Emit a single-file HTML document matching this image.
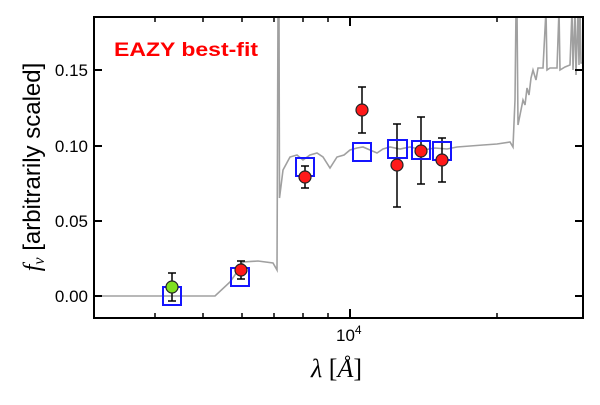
<!DOCTYPE html>
<html><head><style>html,body{margin:0;padding:0;background:#fff}</style></head><body>
<svg width="600" height="400" xmlns="http://www.w3.org/2000/svg" font-family="Liberation Sans, DejaVu Sans, sans-serif">
<rect width="600" height="400" fill="#fff"/>
<defs><clipPath id="c"><rect x="94" y="17" width="489" height="301"/></clipPath></defs>
<g clip-path="url(#c)" fill="none" stroke="#a0a0a0" stroke-width="1.6">
<polyline points="94,296 215,296 230,282 242,265 243,262 258,261 273,263 277,270 278,10 279,10 279.5,198 283,170 290,157 297,155 303,160 310,155 317,153 323,157 330,168 337,157 344,155 350,150 357,148 363,147 370,150 377,153 383,149 390,147 400,149 410,147 423,150 435,148 447,149 457,147 470,146 483,145 497,144 510,142 513,147 515,100 516,10 517,10 518,125 521,110 523,100 525,105 527,88 529,95 531,78 533,70 536,80 538,68 543,68 546,10 547,70 550,68 557,68 559,10 560,70 565,67 570,65 572,10 573,70 575,10 576,75 578,10 579,65 580,10 581,63 583,63"/>
</g>
<g stroke="#000" stroke-width="1.5" fill="none">
<line x1="172" y1="273" x2="172" y2="301"/><line x1="168" y1="273" x2="176" y2="273"/><line x1="168" y1="301" x2="176" y2="301"/>
<line x1="241" y1="261" x2="241" y2="279"/><line x1="237" y1="261" x2="245" y2="261"/><line x1="237" y1="279" x2="245" y2="279"/>
<line x1="305" y1="166" x2="305" y2="188"/><line x1="301" y1="166" x2="309" y2="166"/><line x1="301" y1="188" x2="309" y2="188"/>
<line x1="362" y1="87" x2="362" y2="133"/><line x1="358" y1="87" x2="366" y2="87"/><line x1="358" y1="133" x2="366" y2="133"/>
<line x1="397" y1="124" x2="397" y2="207"/><line x1="393" y1="124" x2="401" y2="124"/><line x1="393" y1="207" x2="401" y2="207"/>
<line x1="421" y1="117" x2="421" y2="184"/><line x1="417" y1="117" x2="425" y2="117"/><line x1="417" y1="184" x2="425" y2="184"/>
<line x1="442" y1="138" x2="442" y2="182"/><line x1="438" y1="138" x2="446" y2="138"/><line x1="438" y1="182" x2="446" y2="182"/>
</g>
<g stroke="#1515ff" stroke-width="2" fill="none">
<rect x="163" y="287" width="18" height="18"/>
<rect x="231" y="268" width="18" height="18"/>
<rect x="296" y="158" width="18" height="18"/>
<rect x="353" y="143" width="18" height="18"/>
<rect x="388" y="140" width="19" height="18"/>
<rect x="412" y="141" width="18" height="18"/>
<rect x="433" y="142" width="18" height="18"/>
</g>
<g stroke="#222" stroke-width="1.2" fill="#ff1a1a">
<circle cx="172" cy="287" r="6" fill="#7fe020"/>
<circle cx="241" cy="270" r="6"/>
<circle cx="305" cy="177" r="6"/>
<circle cx="362" cy="110" r="6"/>
<circle cx="397" cy="165" r="6"/>
<circle cx="421" cy="151" r="6"/>
<circle cx="442" cy="160" r="6"/>
</g>
<rect x="94" y="17" width="489" height="301" fill="none" stroke="#000" stroke-width="2"/>
<g stroke="#000" stroke-width="2">
<line x1="94" y1="296" x2="102" y2="296"/><line x1="575" y1="296" x2="583" y2="296"/>
<line x1="94" y1="221" x2="102" y2="221"/><line x1="575" y1="221" x2="583" y2="221"/>
<line x1="94" y1="146" x2="102" y2="146"/><line x1="575" y1="146" x2="583" y2="146"/>
<line x1="94" y1="70" x2="102" y2="70"/><line x1="575" y1="70" x2="583" y2="70"/>
<line x1="350" y1="318" x2="350" y2="309"/><line x1="350" y1="17" x2="350" y2="26"/>
</g>
<g stroke="#000" stroke-width="1.5">
<line x1="155" y1="318" x2="155" y2="313"/><line x1="155" y1="17" x2="155" y2="22"/>
<line x1="203" y1="318" x2="203" y2="313"/><line x1="203" y1="17" x2="203" y2="22"/>
<line x1="242" y1="318" x2="242" y2="313"/><line x1="242" y1="17" x2="242" y2="22"/>
<line x1="274" y1="318" x2="274" y2="313"/><line x1="274" y1="17" x2="274" y2="22"/>
<line x1="303" y1="318" x2="303" y2="313"/><line x1="303" y1="17" x2="303" y2="22"/>
<line x1="328" y1="318" x2="328" y2="313"/><line x1="328" y1="17" x2="328" y2="22"/>
<line x1="497" y1="318" x2="497" y2="313"/><line x1="497" y1="17" x2="497" y2="22"/>
</g>
<g font-size="17" text-anchor="end" fill="#000">
<text x="88" y="302">0.00</text><text x="88" y="227">0.05</text><text x="88" y="152">0.10</text><text x="88" y="76">0.15</text>
</g>
<text x="336" y="341" font-size="17">10<tspan font-size="12" dy="-7">4</tspan></text>
<text x="114" y="56" font-size="19" font-weight="bold" fill="#ff0000" textLength="144" lengthAdjust="spacingAndGlyphs">EAZY best-fit</text>
<text x="311" y="377" font-size="26" font-family="Liberation Serif, serif"><tspan font-style="italic">λ</tspan> [<tspan font-style="italic">Å</tspan>]</text>
<text transform="translate(40,167) rotate(-90)" font-size="24" text-anchor="middle" font-family="Liberation Sans, sans-serif"><tspan font-style="italic" font-family="Liberation Serif, serif">f<tspan font-size="16" dy="4">ν</tspan></tspan><tspan dy="-4"> [arbitrarily scaled]</tspan></text>
</svg>
</body></html>
